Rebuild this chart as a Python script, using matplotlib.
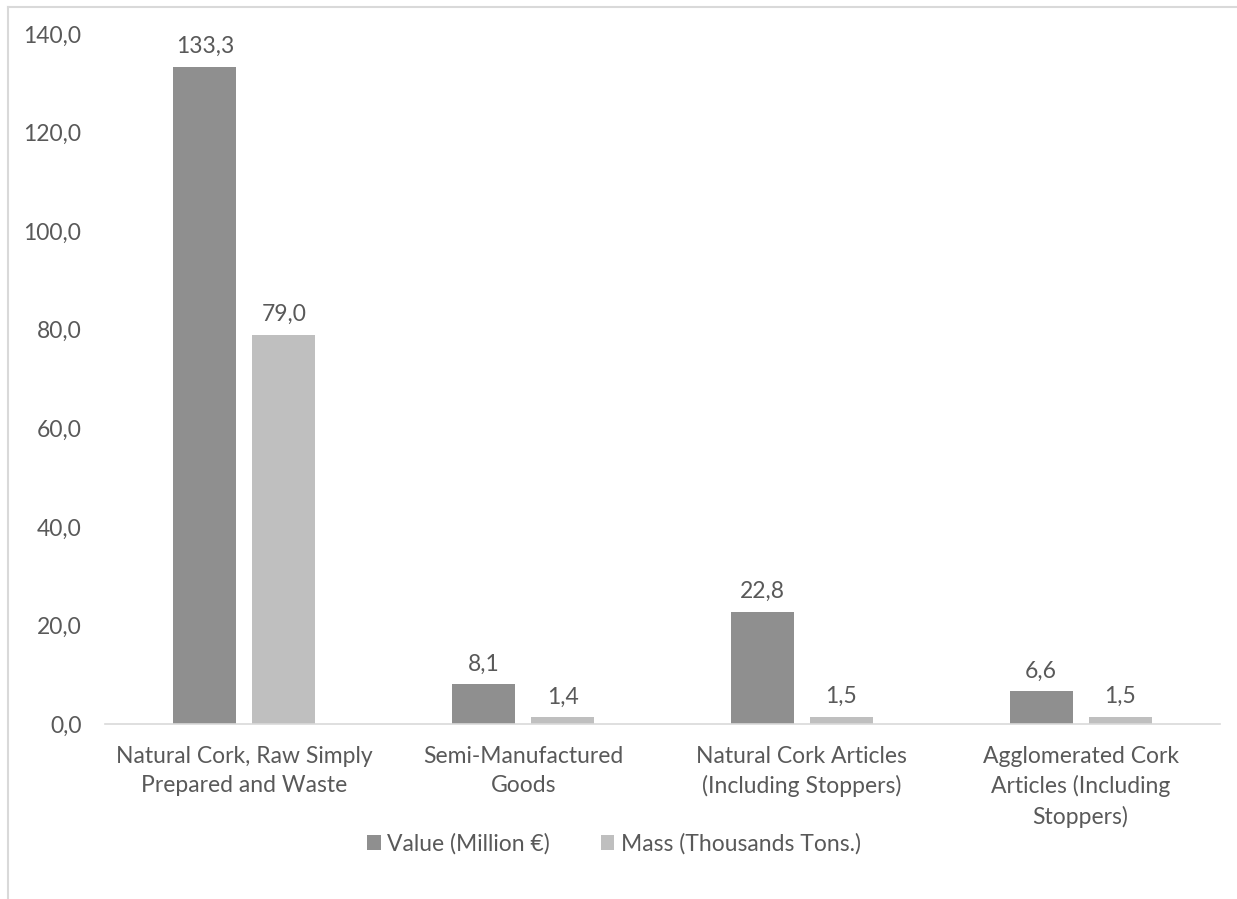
import matplotlib.pyplot as plt
import numpy as np
from matplotlib.lines import Line2D

# data
categories = ["Natural Cork, Raw Simply\nPrepared and Waste",
              "Semi-Manufactured\nGoods",
              "Natural Cork Articles\n(Including Stoppers)",
              "Agglomerated Cork\nArticles (Including\nStoppers)"]
value = [133.3, 8.1, 22.8, 6.6]
mass = [79.0, 1.4, 1.5, 1.5]
series_names = ["Value (Million €)", "Mass (Thousands Tons.)"]
yticks = [0, 20, 40, 60, 80, 100, 120, 140]

plt.rcParams['font.family'] = ['Lato', 'DejaVu Sans']
txt = '#595959'
dark = '#8f8f8f'
light = '#bfbfbf'
fs = 16.5

fig = plt.figure(figsize=(12.37, 8.99), dpi=100)
ax = fig.add_axes([105/1237, 175/899, 1115/1237, 690/899])

x = np.arange(len(categories))
w = 0.226
off = (w + 0.057) / 2
b1 = ax.bar(x - off, value, w, color=dark, label=series_names[0])
b2 = ax.bar(x + off, mass, w, color=light, label=series_names[1])

def fmt(v):
    return f"{v:.1f}".replace('.', ',')

for bars, vals in [(b1, value), (b2, mass)]:
    for r, v in zip(bars, vals):
        ax.annotate(fmt(v), (r.get_x() + r.get_width()/2, v), xytext=(0, 7),
                    textcoords='offset points', ha='center', va='bottom',
                    fontsize=fs, color=txt)

ax.set_xlim(-0.5, len(categories) - 0.5)
ax.set_ylim(0, 140)
ax.set_yticks(yticks)
ax.set_yticklabels([fmt(t) for t in yticks], fontsize=fs, color=txt)
ax.set_xticks(x)
ax.set_xticklabels(categories, fontsize=fs, color=txt, linespacing=1.45, va='top')
ax.tick_params(axis='both', length=0)
ax.tick_params(axis='y', pad=17)
ax.tick_params(axis='x', pad=16)
for s in ['top', 'right', 'left']:
    ax.spines[s].set_visible(False)
ax.spines['bottom'].set_color('#d9d9d9')
ax.spines['bottom'].set_linewidth(1.2)

leg = fig.legend(handles=[b1, b2], loc='center', bbox_to_anchor=(614/1237, 1 - 844/899),
                 ncol=2, frameon=False, fontsize=fs, labelcolor=txt,
                 handlelength=0.6, handleheight=0.6, handletextpad=0.3, columnspacing=2.2)

# outer chart frame (only top and left visible in the crop)
fig.add_artist(Line2D([8/1237, 8/1237], [0, 1 - 6.5/899], transform=fig.transFigure,
                      color='#d9d9d9', lw=1.5))
fig.add_artist(Line2D([8/1237, 1], [1 - 6.5/899, 1 - 6.5/899], transform=fig.transFigure,
                      color='#d9d9d9', lw=1.5))

fig.savefig('out.png', dpi=100)
